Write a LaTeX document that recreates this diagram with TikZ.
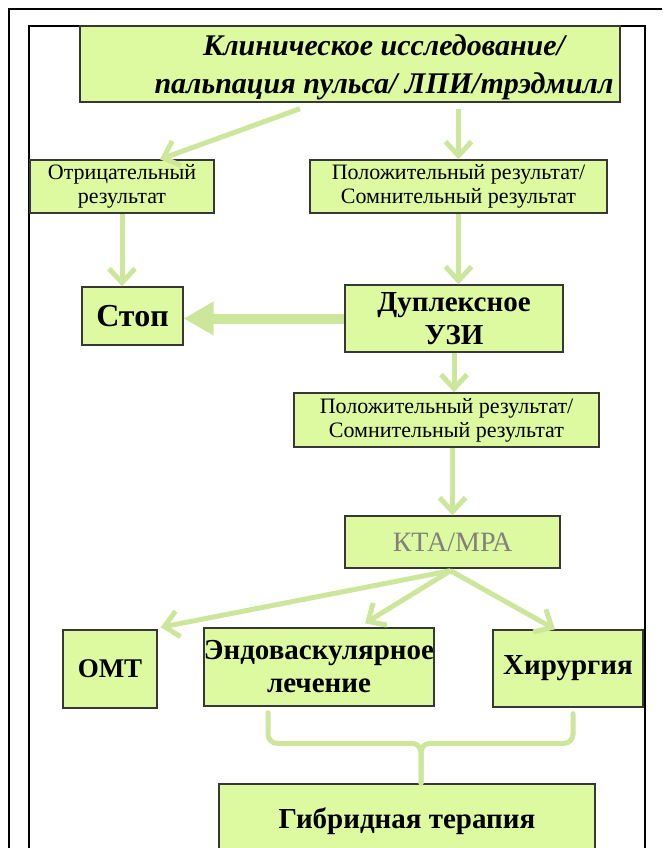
\documentclass[tikz,border=0pt]{standalone}
\usepackage{fontspec}
\setmainfont{Liberation Serif}
\usetikzlibrary{calc,arrows.meta}
\definecolor{boxgreen}{RGB}{221,250,160}
\definecolor{arrgreen}{RGB}{204,230,156}
\definecolor{boxline}{RGB}{55,55,55}

\begin{document}
\begin{tikzpicture}[x=1pt,y=-1pt,
        box/.style={draw=boxline, line width=1.4pt, fill=boxgreen, inner sep=0pt, align=center},
        flow/.style={line width=5pt, arrgreen, -{Straight Barb[length=14pt,width=26pt]}},
        bigflow/.style={line width=10pt, arrgreen, -{Triangle[length=30pt,width=32pt]}},
        brace/.style={line width=5pt, arrgreen, line cap=round, rounded corners=9pt},
        smalltxt/.style={font=\fontsize{22}{24}\selectfont},
        bigtxt/.style={font=\bfseries\fontsize{29}{33}\selectfont}]
        \useasboundingbox (0,0) rectangle (662,848);
        % frames
        \draw[line width=2.5pt] (9,848) -- (9,9) -- (662,9);
        \draw[line width=1.5pt] (29,848) -- (29,26) -- (645,26) -- (645,848);
        % boxes
        \node[box, minimum width=540, minimum height=76] (top) at (350,64) {};
        \node[font=\bfseries\itshape\fontsize{30}{38}\selectfont, align=center] (toptxt) at (384,67)
            {Клиническое исследование/\\пальпация пульса/ ЛПИ/трэдмилл};
        \node[box, smalltxt, minimum width=184, minimum height=53] (neg) at (122,186.5)
            {Отрицательный\\результат};
        \node[box, smalltxt, minimum width=297, minimum height=53] (pos1) at (458.5,186.5)
            {Положительный результат/\\Сомнительный результат};
        \node[box, bigtxt, font=\bfseries\fontsize{32}{33}\selectfont, minimum width=101, minimum height=58] (stop)
            at (132.5,316) {Стоп};
        \node[box, bigtxt, minimum width=218, minimum height=67] (duplex) at (454,318.5)
            {Дуплексное\\УЗИ};
        \node[box, smalltxt, minimum width=305, minimum height=54] (pos2) at (446.5,420)
            {Положительный результат/\\Сомнительный результат};
        \node[box, font=\fontsize{28}{30}\selectfont, text=gray, minimum width=215, minimum height=52] (cta)
            at (452.5,542) {КТА/МРА};
        \node[box, font=\bfseries\fontsize{27}{33}\selectfont, minimum width=94, minimum height=78] (omt)
            at (110,669) {ОМТ};
        \node[box, bigtxt, minimum width=226, minimum height=78] (endo) at (319,667)
            {Эндоваскулярное\\лечение};
        \node[box, bigtxt, minimum width=150, minimum height=77] (surg) at (568,668.5) {Хирургия};
        \node[box, bigtxt, minimum width=376, minimum height=74] (hyb) at (407,821) {Гибридная терапия};
        % arrows
        \draw[flow] ($(top.south)+(-50,6)$) -- ($(neg.north)+(38,0)$);
        \draw[flow] ($(top.south -| pos1.north)+(0,6)$) -- (pos1.north);
        \draw[flow] (neg.south) -- (neg.south |- stop.north);
        \draw[flow] (pos1.south) -- (pos1.south |- duplex.north);
        \draw[bigflow] (duplex.west) -- (duplex.west -| stop.east);
        \draw[flow] (duplex.south) -- (duplex.south |- pos2.north);
        \draw[flow] (cta.north |- pos2.south) -- (cta.north);
        \draw[flow] ($(cta.south)+(-2,2)$) -- ($(omt.north east)+(3,-2)$);
        \draw[flow] ($(cta.south)+(-2,2)$) -- ($(endo.north)+(46,-4)$);
        \draw[flow] ($(cta.south)+(-2,2)$) -- ($(surg.north)+(-13,0)$);
        % bracket
        \coordinate (bl) at ($(endo.south)+(-51,6)$);
        \coordinate (br) at ($(surg.south)+(5,6)$);
        \coordinate (bm) at ($(hyb.north)+(14,-40)$);
        \draw[brace] (bl) |- (bm) -- (hyb.north -| bm);
        \draw[brace] (br) |- (bm) -- (hyb.north -| bm);
    \end{tikzpicture}
\end{document}
